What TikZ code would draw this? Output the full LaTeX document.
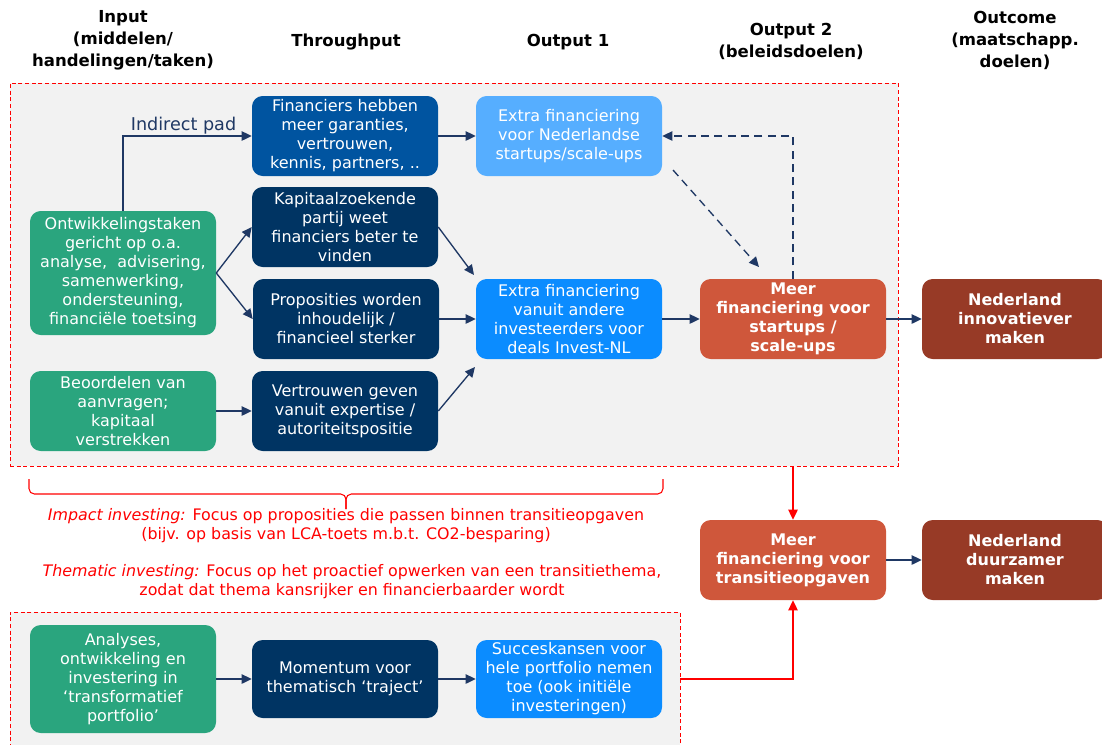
\documentclass[tikz,border=0pt]{standalone}
\usepackage{fontspec}
\setmainfont{DejaVu Sans}
\usetikzlibrary{arrows.meta,calc}
\definecolor{cgreen}{RGB}{42,165,126}
\definecolor{cmid}{RGB}{0,84,160}
\definecolor{cnavy}{RGB}{0,52,99}
\definecolor{clight}{RGB}{86,174,255}
\definecolor{cbright}{RGB}{11,140,255}
\definecolor{corange}{RGB}{207,87,59}
\definecolor{cbrown}{RGB}{151,58,38}
\definecolor{carrow}{RGB}{31,56,100}
\definecolor{cgray}{RGB}{242,242,242}
\definecolor{cred}{RGB}{255,0,0}
\begin{document}
\begin{tikzpicture}[x=0.75pt,y=-0.75pt,
  bx/.style={rectangle, rounded corners=8pt, minimum width=139.5pt, minimum height=60pt,
    inner sep=0pt, align=center, text=white, font=\fontsize{12}{14.25}\selectfont},
  bxb/.style={bx, font=\fontsize{12}{14.25}\selectfont\bfseries},
  hdr/.style={align=center, font=\fontsize{12.4}{16.5}\selectfont\bfseries},
  area/.style={draw=cred, fill=cgray, densely dashed, line width=0.6pt, inner sep=0pt},
  arr/.style={draw=carrow, line width=1pt, -{Triangle[length=7.5pt,width=7pt]}},
  darr/.style={arr, dash pattern=on 6pt off 4pt},
  rarr/.style={draw=cred, line width=1pt, -{Triangle[length=7.5pt,width=7pt]}},
  rtext/.style={align=center, text=cred, font=\fontsize{11.9}{14.25}\selectfont}
]
\useasboundingbox (0,0) rectangle (1102,744);

% headers
\node[hdr] (h1) at (123,40) {Input\\(middelen/\\handelingen/taken)};
\node[hdr] (h2) at (346,42) {Throughput};
\node[hdr] (h3) at (568,42) {Output 1};
\node[hdr] (h4) at (791,41) {Output 2\\(beleidsdoelen)};
\node[hdr] (h5) at (1015,40) {Outcome\\(maatschapp.\\doelen)};

% areas
\node[area, minimum width=666pt, minimum height=287.25pt] (topbox) at (454,274.5) {};
\node[area, minimum width=502.5pt, minimum height=111pt] (botbox) at (345,686) {};

% input column
\node[bx, fill=cgreen, minimum height=93pt] (A1) at (123,273)
  {Ontwikkelingstaken\\gericht op o.a.\\analyse,\ \ advisering,\\samenwerking,\\ondersteuning,\\financiële toetsing};
\node[bx, fill=cgreen] (A2) at (123,411) {Beoordelen van\\aanvragen;\\kapitaal\\verstrekken};

% throughput column
\node[bx, fill=cmid] (T1) at (345,136) {Financiers hebben\\meer garanties,\\vertrouwen,\\kennis, partners, ..};
\node[bx, fill=cnavy] (T2) at (345,227) {Kapitaalzoekende\\partij weet\\financiers beter te\\vinden};
\node[bx, fill=cnavy] (T3) at (346,319) {Proposities worden\\inhoudelijk /\\financieel sterker};
\node[bx, fill=cnavy] (T4) at (345,411) {Vertrouwen geven\\vanuit expertise /\\autoriteitspositie};

% output 1
\node[bx, fill=clight] (O1a) at (569,136) {Extra financiering\\voor Nederlandse\\startups/scale-ups};
\node[bx, fill=cbright] (O1b) at (569,319) {Extra financiering\\vanuit andere\\investeerders voor\\deals Invest-NL};

% output 2 and outcome
\node[bxb, fill=corange] (M1) at (793,319) {Meer\\financiering voor\\startups /\\scale-ups};
\node[bxb, fill=cbrown] (N1) at (1015,319) {Nederland\\innovatiever\\maken};
\node[bxb, fill=corange] (M2) at (793,560) {Meer\\financiering voor\\transitieopgaven};
\node[bxb, fill=cbrown] (N2) at (1015,560) {Nederland\\duurzamer\\maken};

% bottom row
\node[bx, fill=cgreen, minimum height=81pt] (B1) at (123,679) {Analyses,\\ontwikkeling en\\investering in\\‘transformatief\\portfolio’};
\node[bx, fill=cnavy, minimum height=58.5pt] (B2) at (345,679) {Momentum voor\\thematisch ‘traject’};
\node[bx, fill=cbright, minimum height=58.5pt] (B3) at (569,679) {Succeskansen voor\\hele portfolio nemen\\toe (ook initiële\\investeringen)};

% red texts
\node[rtext] (imp) at (346,525.5) {\textit{Impact investing:} Focus op proposities die passen binnen transitieopgaven\\(bijv. op basis van LCA-toets m.b.t. CO2-besparing)};
\node[rtext] (thm) at (352,581.5) {\textit{Thematic investing:} Focus op het proactief opwerken van een transitiethema,\\zodat dat thema kansrijker en financierbaarder wordt};

% brace
\coordinate (brL) at (29,479);
\coordinate (brR) at (663,479);
\coordinate (brT) at (346,509);
\draw[cred, line width=0.8pt, rounded corners=4pt] (brL) -- (29,494) -- (346,494) -- (brT);
\draw[cred, line width=0.8pt, rounded corners=4pt] (brR) -- (663,494) -- (346,494) -- (brT);

% connectors
\draw[arr] (A1.north) |- (T1.west) node[pos=0.735, above=-2.5pt, text=carrow, font=\fontsize{13.2}{15}\selectfont] {Indirect pad};
\draw[arr] (A1.east) -- (T2.west);
\draw[arr] (A1.east) -- (T3.west);
\draw[arr] (A2.east) -- (T4.west);
\draw[arr] (T1.east) -- (O1a.west);
\coordinate (o1bNW) at (474,275);
\coordinate (o1bSW) at (475,367);
\draw[arr] (T2.east) -- (o1bNW);
\draw[arr] (T3.east) -- (O1b.west);
\draw[arr] (T4.east) -- (o1bSW);
\draw[arr] (O1b.east) -- (M1.west);
\draw[arr] (M1.east) -- (N1.west);
\draw[arr] (M2.east) -- (N2.west);
\coordinate (dS) at (673,170);
\coordinate (dE) at (759,267);
\draw[darr] (dS) -- (dE);
\draw[darr] (M1.north) |- (O1a.east);
\draw[arr] (B1.east) -- (B2.west);
\draw[arr] (B2.east) -- (B3.west);
\draw[rarr] (topbox.south -| M2.north) -- (M2.north);
\draw[rarr] (B3 -| botbox.east) -| (M2.south);
\end{tikzpicture}
\end{document}
